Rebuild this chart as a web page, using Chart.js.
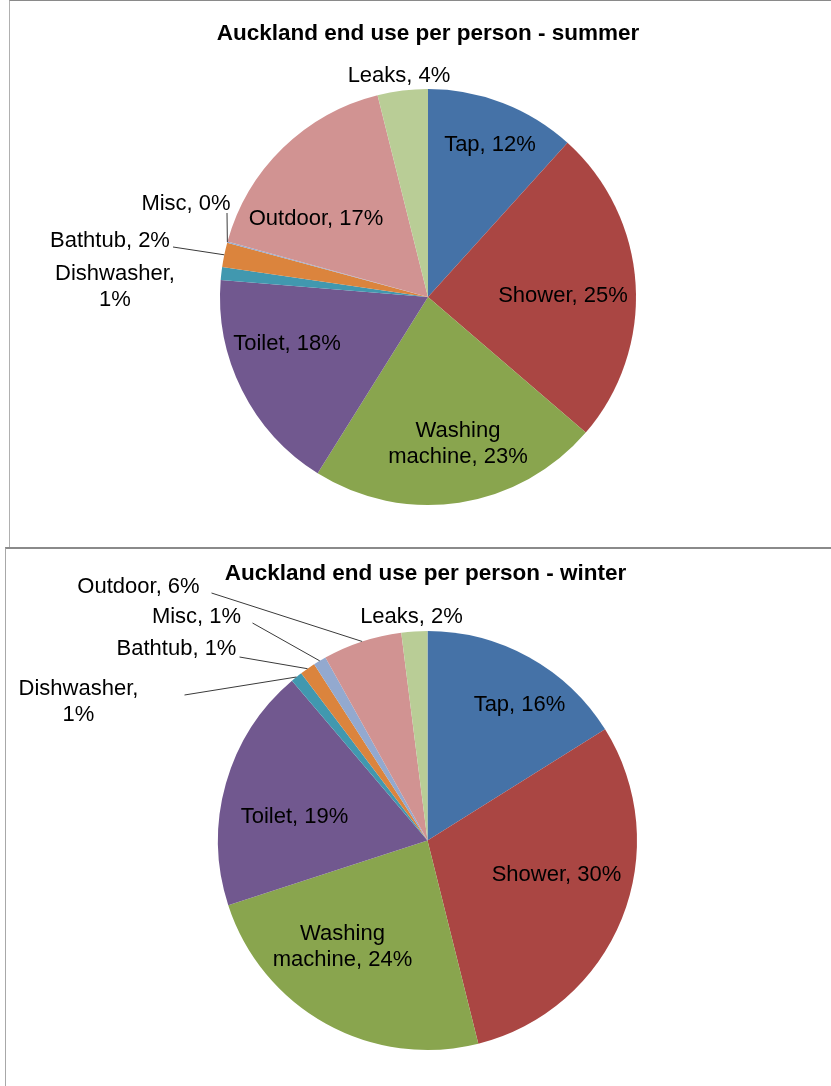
<!DOCTYPE html>
<html>
<head>
<meta charset="utf-8">
<script src="https://cdn.jsdelivr.net/npm/chart.js@4"></script>
<style>
  html, body { margin:0; padding:0; background:#fff; }
  body { width:831px; height:1086px; position:relative; overflow:hidden; }
  #box1 { position:absolute; left:9px; top:0px; width:830px; height:547px; border-top:1px solid #8a8a8a; border-left:1px solid #b0b0b0; }
  #box2 { position:absolute; left:5px; top:547px; width:830px; height:545px; border-top:2px solid #8a8a8a; border-left:1px solid #a8a8a8; }
  canvas { position:absolute; left:0; }
  #c1 { top:0; }
  #c2 { top:548px; }
</style>
</head>
<body>
<div id="box1"></div>
<div id="box2"></div>
<canvas id="c1" width="831" height="548"></canvas>
<canvas id="c2" width="831" height="538"></canvas>
<script>
// ---- data ----
const categories = ['Tap', 'Shower', 'Washing machine', 'Toilet', 'Dishwasher', 'Bathtub', 'Misc', 'Outdoor', 'Leaks'];
const summerValues = [11.7, 24.6, 22.6, 17.4, 1.0, 1.9, 0.1, 16.8, 3.9];
const summerPct    = [12, 25, 23, 18, 1, 2, 0, 17, 4];
const winterValues = [16.1, 30.0, 23.9, 18.8, 0.9, 1.2, 1.0, 6.1, 2.0];
const winterPct    = [16, 30, 24, 19, 1, 1, 1, 6, 2];
const summerTitle = 'Auckland end use per person - summer';
const winterTitle = 'Auckland end use per person - winter';
const colors = ['#4572A7', '#AA4643', '#89A54E', '#71588F', '#4198AF', '#DB843D', '#93A9CF', '#D19392', '#B9CD96'];

// ---- label layout (offsets from pie centre, baseline of first line; optional leader start) ----
const summerLayout = [
  {dx: 62,   dy: -146},
  {dx: 135,  dy: 5},
  {dx: 30,   dy: 140},
  {dx: -141, dy: 53},
  {dx: -313, dy: -17},
  {dx: -318, dy: -50, lead: [-255, -50]},
  {dx: -242, dy: -87, lead: [-201, -84]},
  {dx: -112, dy: -72},
  {dx: -29,  dy: -215}
];
const winterLayout = [
  {dx: 92,   dy: -129.5},
  {dx: 129,  dy: 40.5},
  {dx: -85,  dy: 99.5},
  {dx: -133, dy: -17.5},
  {dx: -349, dy: -145.5, lead: [-243, -145.5]},
  {dx: -251, dy: -185.5, lead: [-188, -183.5]},
  {dx: -231, dy: -217.5, lead: [-175, -217.5]},
  {dx: -289, dy: -247.5, lead: [-216, -247.5]},
  {dx: -16,  dy: -217.5}
];

function labelLines(name, pct) {
  if (name === 'Washing machine') return ['Washing', 'machine, ' + pct + '%'];
  if (name === 'Dishwasher') return ['Dishwasher,', pct + '%'];
  return [name + ', ' + pct + '%'];
}

const labelPlugin = {
  id: 'pieLabels',
  afterDatasetsDraw(chart, args, opts) {
    const ctx = chart.ctx;
    const meta = chart.getDatasetMeta(0);
    const a0 = meta.data[0];
    const cx = a0.x, cy = a0.y, r = a0.outerRadius;
    ctx.save();
    // title
    ctx.fillStyle = '#000';
    ctx.textAlign = 'center';
    ctx.textBaseline = 'alphabetic';
    ctx.font = 'bold 22.5px "Liberation Sans", Arial, sans-serif';
    ctx.fillText(opts.title, opts.titleX, opts.titleY);
    // labels
    ctx.font = '22px "Liberation Sans", Arial, sans-serif';
    opts.layout.forEach((p, i) => {
      const lines = labelLines(categories[i], opts.pct[i]);
      lines.forEach((t, k) => ctx.fillText(t, cx + p.dx, cy + p.dy + k * 25.5));
      if (p.lead) {
        const arc = meta.data[i];
        const mid = (arc.startAngle + arc.endAngle) / 2;
        const ex = cx + r * Math.cos(mid), ey = cy + r * Math.sin(mid);
        ctx.strokeStyle = '#3a3a3a';
        ctx.lineWidth = 1;
        ctx.beginPath();
        ctx.moveTo(cx + p.lead[0], cy + p.lead[1]);
        ctx.lineTo(ex, ey);
        ctx.stroke();
      }
    });
    ctx.restore();
  }
};

function makePie(id, values, pct, layout, title, titleX, titleY, padding) {
  return new Chart(document.getElementById(id), {
    type: 'pie',
    data: {
      labels: categories,
      datasets: [{ data: values, backgroundColor: colors, borderWidth: 0 }]
    },
    options: {
      responsive: false,
      animation: false,
      devicePixelRatio: 1,
      layout: { padding: padding },
      plugins: {
        legend: { display: false },
        tooltip: { enabled: false },
        pieLabels: { layout: layout, pct: pct, title: title, titleX: titleX, titleY: titleY }
      }
    },
    plugins: [labelPlugin]
  });
}

makePie('c1', summerValues, summerPct, summerLayout, summerTitle, 428, 40,
  {left: 220, right: 195, top: 89, bottom: 43});
makePie('c2', winterValues, winterPct, winterLayout, winterTitle, 425.5, 32,
  {left: 218, right: 194, top: 83, bottom: 36});
</script>
</body>
</html>
